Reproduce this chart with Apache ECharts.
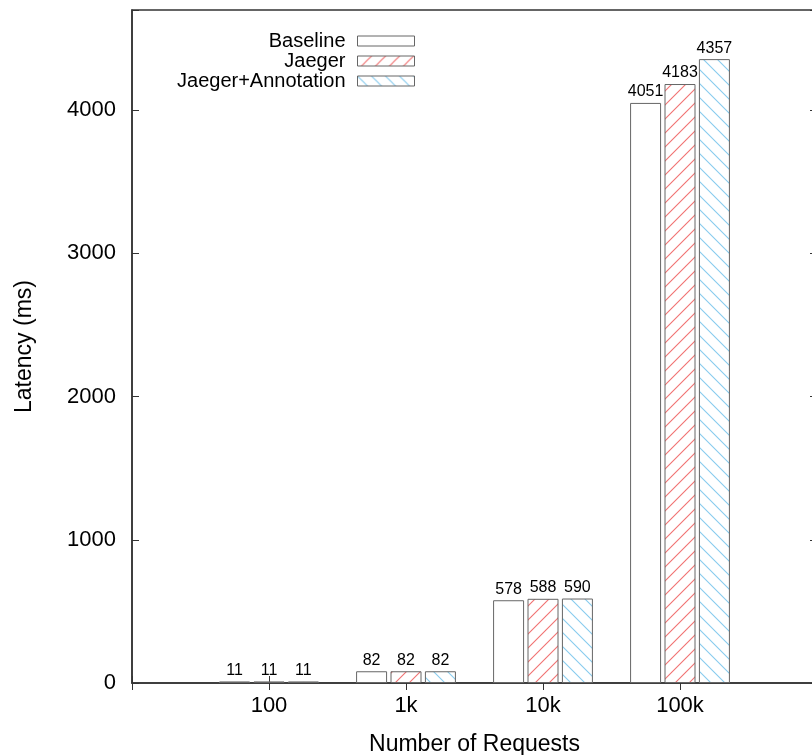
<!DOCTYPE html>
<html>
<head>
<meta charset="utf-8">
<script src="https://cdn.jsdelivr.net/npm/echarts@6/dist/echarts.min.js"></script>
<style>
html,body{margin:0;padding:0;background:#fff;}
#chart{width:812px;height:755px;}
</style>
</head>
<body>
<div id="chart"></div>
<script>
const categories = ['100', '1k', '10k', '100k'];
const seriesNames = ['Baseline', 'Jaeger', 'Jaeger+Annotation'];
const baseline = [11, 82, 578, 4051];
const jaeger = [11, 82, 588, 4183];
const jaegerAnnotation = [11, 82, 590, 4357];
const yTicks = [0, 1000, 2000, 3000, 4000];

function hatch(color, dir) {
  const s = 14;
  const c = document.createElement('canvas');
  c.width = s; c.height = s;
  const ctx = c.getContext('2d');
  ctx.fillStyle = '#ffffff';
  ctx.fillRect(0, 0, s, s);
  ctx.strokeStyle = color;
  ctx.lineWidth = 1.1;
  for (let k = -1; k <= 1; k++) {
    ctx.beginPath();
    if (dir === 'up') {
      ctx.moveTo(k * s - 1, s + 1);
      ctx.lineTo(k * s + s + 1, -1);
    } else {
      ctx.moveTo(k * s - 1, -1);
      ctx.lineTo(k * s + s + 1, s + 1);
    }
    ctx.stroke();
  }
  return { image: c, repeat: 'repeat' };
}

const hatchSpec = [null, ['#f07070', 'up'], ['#86cbee', 'down']];
function fillFor(i) {
  return hatchSpec[i] ? hatch(hatchSpec[i][0], hatchSpec[i][1]) : '#ffffff';
}
const borderColor = '#666666';
const pad = arr => [null].concat(arr, [null]);
const axisCats = [''].concat(categories, ['']);
const dataSets = [baseline, jaeger, jaegerAnnotation];
const FONT = 'Liberation Sans, Arial, Helvetica, sans-serif';

const chart = echarts.init(document.getElementById('chart'));

const legends = seriesNames.map((n, i) => ({
  right: 397,
  top: 31 + i * 20,
  padding: 0,
  orient: 'vertical',
  align: 'right',
  itemWidth: 57,
  itemHeight: 10,
  selectedMode: false,
  textStyle: { fontSize: 20, color: '#000', fontFamily: FONT, padding: [0, 7, 0, 0] },
  data: [{ name: n, icon: 'rect', itemStyle: { color: fillFor(i), borderColor: borderColor, borderWidth: 1 } }]
}));

chart.setOption({
  animation: false,
  aria: { enabled: false, decal: { show: false } },
  backgroundColor: '#fff',
  textStyle: { fontFamily: FONT },
  legend: legends,
  grid: {
    left: 132, top: 10, width: 685, height: 673,
    outerBoundsMode: 'none',
    containLabel: false,
    show: true, borderColor: '#333', borderWidth: 1.5, backgroundColor: 'transparent'
  },
  xAxis: [{
    type: 'category',
    data: axisCats,
    boundaryGap: false,
    position: 'bottom',
    axisLine: { lineStyle: { color: '#333', width: 1.5 } },
    axisTick: { inside: true, length: 7, interval: 0, lineStyle: { color: '#333' } },
    axisLabel: { fontSize: 22, color: '#000', margin: 12, interval: 0, fontFamily: FONT },
    name: 'Number of Requests',
    nameLocation: 'middle',
    nameGap: 50,
    nameTextStyle: { fontSize: 23, color: '#000', fontFamily: FONT },
    splitLine: { show: false }
  }, {
    type: 'category',
    data: axisCats,
    boundaryGap: false,
    position: 'top',
    axisLine: { show: false },
    axisTick: { inside: true, length: 7, interval: 0, lineStyle: { color: '#333' } },
    axisLabel: { show: false },
    splitLine: { show: false }
  }],
  yAxis: [{
    type: 'value',
    min: 0, max: 4700, interval: 1000,
    axisLine: { show: true, lineStyle: { color: '#333', width: 1.5 } },
    axisTick: { show: true, inside: true, length: 7, lineStyle: { color: '#333' } },
    axisLabel: {
      fontSize: 22, color: '#000', margin: 16, fontFamily: FONT,
      formatter: v => (yTicks.indexOf(v) >= 0 ? String(v) : '')
    },
    splitLine: { show: false },
    name: 'Latency (ms)',
    nameLocation: 'middle',
    nameGap: 96,
    nameTextStyle: { fontSize: 23, color: '#000', fontFamily: FONT }
  }, {
    type: 'value',
    position: 'right',
    min: 0, max: 4700, interval: 1000,
    axisLine: { show: false },
    axisTick: { show: true, inside: true, length: 7, lineStyle: { color: '#333' } },
    axisLabel: { show: false },
    splitLine: { show: false }
  }],
  series: seriesNames.map((n, i) => ({
    name: n,
    type: 'bar',
    xAxisIndex: 0,
    yAxisIndex: 0,
    data: pad(dataSets[i]),
    barWidth: 31,
    barGap: '11%',
    itemStyle: { color: fillFor(i), borderColor: borderColor, borderWidth: 1 },
    emphasis: { disabled: true },
    label: {
      show: true, position: 'top', distance: 3,
      fontSize: 16, color: '#000', fontFamily: FONT
    }
  }))
});
</script>
</body>
</html>
